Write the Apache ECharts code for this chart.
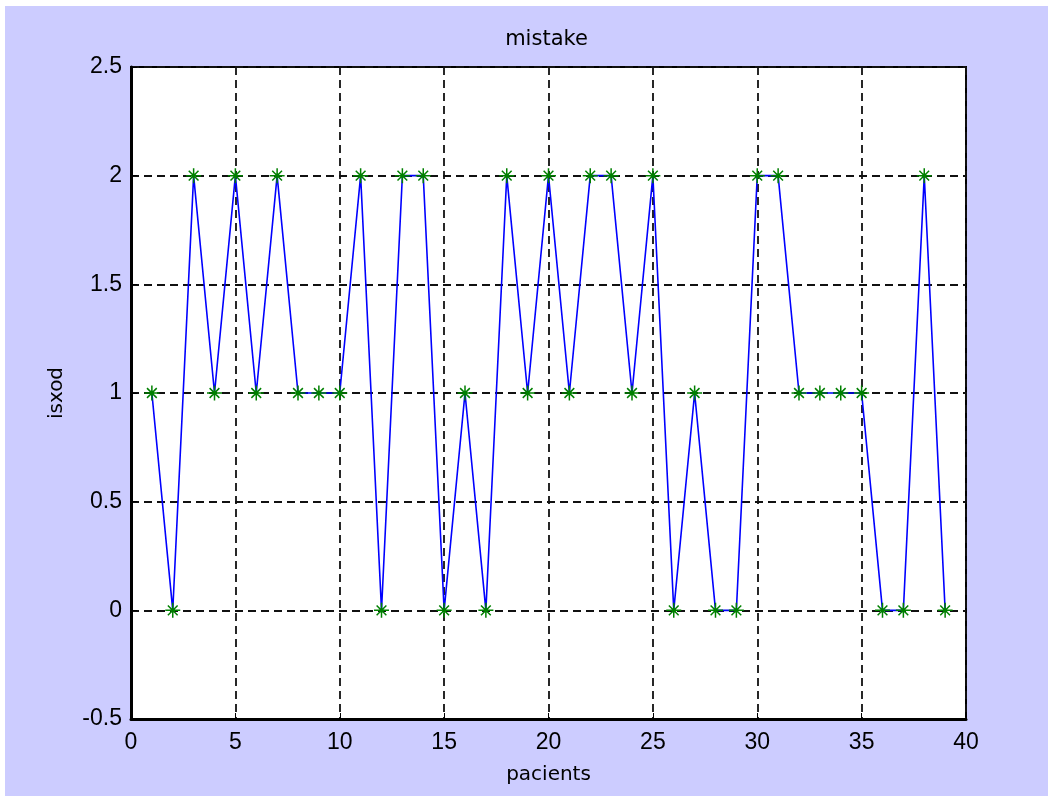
<!DOCTYPE html>
<html>
<head>
<meta charset="utf-8">
<script src="https://cdn.jsdelivr.net/npm/echarts@6/dist/echarts.min.js"></script>
<style>
  html, body { margin: 0; padding: 0; background: #ffffff; }
  #c { position: absolute; left: 5px; top: 6px; width: 1043px; height: 790px; background: #CCCCFF; }
</style>
</head>
<body>
<div id="c"></div>
<script>
// Data
const patients = [1,2,3,4,5,6,7,8,9,10,11,12,13,14,15,16,17,18,19,20,21,22,23,24,25,26,27,28,29,30,31,32,33,34,35,36,37,38,39];
const outcome  = [1,0,2,1,2,1,2,1,1,1,2,0,2,2,0,1,0,2,1,2,1,2,2,1,2,0,1,0,0,2,2,1,1,1,1,0,0,2,0];
const titleText = 'mistake';
const xName = 'pacients';
const yName = 'isxod';

const chart = echarts.init(document.getElementById('c'), null, { renderer: 'canvas' });
const tickFont = '"Liberation Sans", Arial, Helvetica, sans-serif';
const textFont = '"DejaVu Sans", Verdana, sans-serif';
const asterisk = 'path://M0,8L16,8M8,0L8,16M2.8,2.8L13.2,13.2M13.2,2.8L2.8,13.2M6.5,6.5L9.5,6.5L9.5,9.5L6.5,9.5Z';

const GL = 126, GT = 61, GW = 835, GH = 652;
const gridLine = { show: true, lineStyle: { color: '#111', width: 1.8, type: [8, 5] } };

chart.setOption({
  animation: false,
  backgroundColor: '#CCCCFF',
  graphic: [{
    type: 'text',
    x: GL + GW / 2 - 2,
    y: 34,
    style: { text: titleText, fontFamily: textFont, fontSize: 21, fill: '#000', align: 'center', verticalAlign: 'middle' }
  }],
  grid: {
    left: GL, top: GT, width: GW, height: GH,
    show: true, backgroundColor: '#ffffff', borderColor: '#000', borderWidth: 2
  },
  xAxis: {
    type: 'value',
    min: 0, max: 40, interval: 5,
    name: xName, nameLocation: 'middle', nameGap: 46,
    nameTextStyle: { fontFamily: textFont, fontSize: 20, color: '#000' },
    axisLine: { show: true, onZero: false, lineStyle: { color: '#000', width: 3 } },
    axisTick: { show: true, inside: true, length: 6, lineStyle: { color: '#000' } },
    axisLabel: { fontFamily: tickFont, fontSize: 23, color: '#000', margin: 12 },
    splitLine: gridLine
  },
  yAxis: {
    type: 'value',
    min: -0.5, max: 2.5, interval: 0.5,
    name: yName, nameLocation: 'middle', nameGap: 64,
    nameTextStyle: { fontFamily: textFont, fontSize: 20, color: '#000' },
    axisLine: { show: true, onZero: false, lineStyle: { color: '#000', width: 3 } },
    axisTick: { show: true, inside: true, length: 6, lineStyle: { color: '#000' } },
    axisLabel: { fontFamily: tickFont, fontSize: 23, color: '#000', margin: 9 },
    splitLine: gridLine
  },
  series: [{
    type: 'line',
    data: patients.map((p, i) => [p, outcome[i]]),
    lineStyle: { color: '#0000FF', width: 1.6 },
    symbol: asterisk,
    symbolSize: 15,
    showSymbol: true,
    itemStyle: { color: '#008000', borderColor: '#008000', borderWidth: 1.5 },
    z: 3
  }]
});
</script>
</body>
</html>
